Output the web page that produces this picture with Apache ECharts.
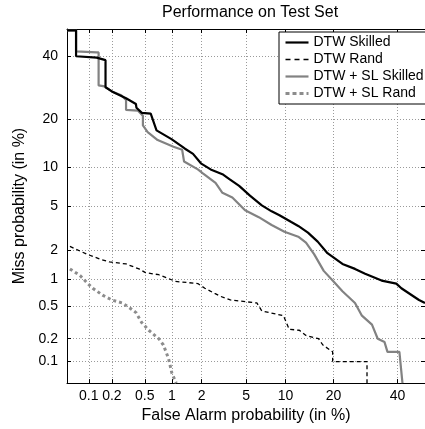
<!DOCTYPE html>
<html>
<head>
<meta charset="utf-8">
<script src="https://cdn.jsdelivr.net/npm/echarts@6/dist/echarts.min.js"></script>
<style>
  html, body { margin: 0; padding: 0; background: #fff; }
  #chart { width: 425px; height: 429px; }
</style>
</head>
<body>
<div id="chart"></div>
<script>
// tick positions (in %) and their labels, both axes
const tickPct = [0.1, 0.2, 0.5, 1, 2, 5, 10, 20, 40];
const tickLabels = ['0.1', '0.2', '0.5', '1', '2', '5', '10', '20', '40'];
const axisMinPct = 0.05;
const axisMaxPct = 50;

// DTW Skilled: false alarm % / miss %
const dtwSkilledFA = [0.05, 0.067, 0.067, 0.127, 0.127, 0.166, 0.166, 0.2, 0.30, 0.394, 0.40, 0.463, 0.585, 0.68, 0.99, 1.37, 1.65, 1.97, 2.44, 3.13, 3.61, 4.38, 5.38, 6.68, 7.93, 9.05, 10.95, 12.2, 14.1, 16.2, 18.5, 22.4, 26.0, 29.1, 34.5, 39.6, 41.4, 47.8, 50];
const dtwSkilledMiss = [49.5, 49.5, 40, 39.5, 39.0, 38.6, 29.4, 28.1, 26.0, 24.3, 23.2, 21.8, 21.6, 17.3, 15.3, 13.3, 12.3, 10.6, 9.6, 8.87, 8.15, 7.24, 6.07, 5.06, 4.51, 4.18, 3.64, 3.36, 2.92, 2.41, 1.86, 1.45, 1.29, 1.15, 0.97, 0.90, 0.80, 0.59, 0.545];

// DTW Rand
const dtwRandFA = [0.055, 0.094, 0.139, 0.187, 0.30, 0.428, 0.51, 0.72, 0.92, 1.09, 1.84, 2.15, 2.66, 3.0, 3.68, 6.11, 6.68, 9.66, 10.6, 12.4, 13.7, 16.4, 17.4, 19.8, 19.8, 29.7, 29.7];
const dtwRandMiss = [2.17, 1.82, 1.63, 1.52, 1.45, 1.29, 1.18, 1.12, 1.02, 0.95, 0.90, 0.80, 0.70, 0.65, 0.59, 0.545, 0.44, 0.386, 0.263, 0.256, 0.22, 0.20, 0.166, 0.135, 0.10, 0.10, 0.05];

// DTW + SL Skilled
const slSkilledFA = [0.05, 0.067, 0.067, 0.127, 0.135, 0.135, 0.161, 0.2, 0.262, 0.30, 0.30, 0.417, 0.476, 0.476, 0.54, 0.70, 1.04, 1.28, 1.34, 1.84, 2.06, 2.71, 3.13, 3.83, 4.91, 6.33, 7.93, 9.82, 12.2, 13.7, 15.4, 17.6, 19.8, 22.4, 26.0, 28.1, 31.3, 33.2, 35.5, 36.5, 40.7, 41.8];
const slSkilledMiss = [49.5, 49.5, 41.8, 41.4, 41.4, 30.0, 29.7, 28.1, 26.9, 25.5, 22.6, 22.4, 21.0, 18.5, 16.9, 15.1, 13.7, 13.1, 10.9, 9.6, 9.0, 7.63, 6.40, 5.86, 4.60, 4.02, 3.43, 2.98, 2.68, 2.36, 1.82, 1.23, 0.97, 0.74, 0.545, 0.386, 0.30, 0.20, 0.181, 0.135, 0.135, 0.05];

// DTW + SL Rand
const slRandFA = [0.055, 0.076, 0.097, 0.113, 0.152, 0.2, 0.27, 0.33, 0.395, 0.46, 0.556, 0.72, 0.81, 0.92, 1.0, 1.11];
const slRandMiss = [1.29, 1.10, 0.90, 0.80, 0.67, 0.59, 0.545, 0.48, 0.42, 0.32, 0.256, 0.20, 0.166, 0.11, 0.069, 0.05];

// inverse normal CDF (Acklam), DET plots use normal deviate scale
function probit(p) {
  const a = [-3.969683028665376e+01, 2.209460984245205e+02, -2.759285104469687e+02, 1.383577518672690e+02, -3.066479806614716e+01, 2.506628277459239e+00];
  const b = [-5.447609879822406e+01, 1.615858368580409e+02, -1.556989798598866e+02, 6.680131188771972e+01, -1.328068155288572e+01];
  const c = [-7.784894002430293e-03, -3.223964580411365e-01, -2.400758277161838e+00, -2.549671300976260e+00, 4.374664141464968e+00, 2.938163982698783e+00];
  const d = [7.784695709041462e-03, 3.224671290700398e-01, 2.445134137142996e+00, 3.754408661907416e+00];
  const pl = 0.02425;
  let q, r;
  if (p < pl) {
    q = Math.sqrt(-2 * Math.log(p));
    return (((((c[0] * q + c[1]) * q + c[2]) * q + c[3]) * q + c[4]) * q + c[5]) / ((((d[0] * q + d[1]) * q + d[2]) * q + d[3]) * q + 1);
  }
  if (p <= 1 - pl) {
    q = p - 0.5; r = q * q;
    return (((((a[0] * r + a[1]) * r + a[2]) * r + a[3]) * r + a[4]) * r + a[5]) * q / (((((b[0] * r + b[1]) * r + b[2]) * r + b[3]) * r + b[4]) * r + 1);
  }
  q = Math.sqrt(-2 * Math.log(1 - p));
  return -(((((c[0] * q + c[1]) * q + c[2]) * q + c[3]) * q + c[4]) * q + c[5]) / ((((d[0] * q + d[1]) * q + d[2]) * q + d[3]) * q + 1);
}
const pz = (pct) => probit(pct / 100);
const tickPos = tickPct.map(pz);
const toPairs = (fa, miss) => fa.map((v, i) => [pz(v), pz(miss[i])]);
const tickFormatter = (v) => {
  let best = 0;
  tickPos.forEach((t, i) => { if (Math.abs(t - v) < Math.abs(tickPos[best] - v)) best = i; });
  return tickLabels[best];
};

const FONT = 'Liberation Sans';
const GRAY = '#828282';
const GRAY_DASH = '#8c8c8c';

const chart = echarts.init(document.getElementById('chart'));

const baseAxis = {
  type: 'value',
  min: pz(axisMinPct),
  max: pz(axisMaxPct),
  axisLine: { show: true, onZero: false, lineStyle: { color: '#000', width: 1 } },
  axisTick: { show: true, inside: true, length: 4, customValues: tickPos, lineStyle: { color: '#000' } },
  axisLabel: { show: true, customValues: tickPos, formatter: tickFormatter, color: '#000', fontFamily: FONT, fontSize: 14 },
  splitLine: { show: true, lineStyle: { color: '#9a9a9a', type: [1, 2], width: 1 } }
};

const option = {
  animation: false,
  title: {
    text: 'Performance on Test Set',
    left: 162,
    top: 5,
    padding: 0,
    textStyle: { fontFamily: FONT, fontSize: 16, fontWeight: 'normal', color: '#000' }
  },
  grid: { left: 67, top: 29, width: 364, height: 363, containLabel: false },
  legend: {
    orient: 'vertical',
    left: 279,
    top: 32,
    padding: [2, 24, 2, 5],
    itemGap: 0,
    itemWidth: 23,
    itemHeight: 10,
    backgroundColor: '#fff',
    borderColor: '#000',
    borderWidth: 1,
    borderRadius: 0,
    itemStyle: { opacity: 0 },
    textStyle: { fontFamily: FONT, fontSize: 14, color: '#000', lineHeight: 17 },
    data: [
      { name: 'DTW Skilled', lineStyle: { color: '#000', width: 2.2, type: 'solid' } },
      { name: 'DTW Rand', lineStyle: { color: '#000', width: 1.4, type: [5, 4] } },
      { name: 'DTW + SL Skilled', lineStyle: { color: GRAY, width: 2.2, type: 'solid' } },
      { name: 'DTW + SL Rand', lineStyle: { color: GRAY_DASH, width: 3, type: [4, 3] } }
    ]
  },
  xAxis: [
    Object.assign({}, baseAxis, {
      position: 'bottom',
      name: 'False Alarm probability (in %)',
      nameLocation: 'middle',
      nameGap: 17,
      nameTextStyle: { fontFamily: FONT, fontSize: 16, color: '#000', verticalAlign: 'top' },
      axisLabel: Object.assign({}, baseAxis.axisLabel, { margin: 6 })
    }),
    Object.assign({}, baseAxis, {
      position: 'top',
      axisLabel: { show: false },
      splitLine: { show: false }
    })
  ],
  yAxis: [
    Object.assign({}, baseAxis, {
      position: 'left',
      name: 'Miss probability (in %)',
      nameLocation: 'middle',
      nameGap: 33,
      nameTextStyle: { fontFamily: FONT, fontSize: 16, color: '#000' },
      axisLabel: Object.assign({}, baseAxis.axisLabel, { margin: 9 })
    }),
    Object.assign({}, baseAxis, {
      position: 'right',
      axisLabel: { show: false },
      splitLine: { show: false }
    })
  ],
  series: [
    {
      name: 'DTW + SL Rand',
      type: 'line',
      symbol: 'none',
      data: toPairs(slRandFA, slRandMiss),
      lineStyle: { color: GRAY_DASH, width: 3, type: [3, 3] },
      itemStyle: { color: GRAY_DASH }
    },
    {
      name: 'DTW Rand',
      type: 'line',
      symbol: 'none',
      data: toPairs(dtwRandFA, dtwRandMiss),
      lineStyle: { color: '#000', width: 1.3, type: [4, 3] },
      itemStyle: { color: '#000' }
    },
    {
      name: 'DTW + SL Skilled',
      type: 'line',
      symbol: 'none',
      data: toPairs(slSkilledFA, slSkilledMiss),
      lineStyle: { color: GRAY, width: 2.2 },
      itemStyle: { color: GRAY }
    },
    {
      name: 'DTW Skilled',
      type: 'line',
      symbol: 'none',
      data: toPairs(dtwSkilledFA, dtwSkilledMiss),
      lineStyle: { color: '#000', width: 2.2 },
      itemStyle: { color: '#000' }
    }
  ]
};

chart.setOption(option);
</script>
</body>
</html>
